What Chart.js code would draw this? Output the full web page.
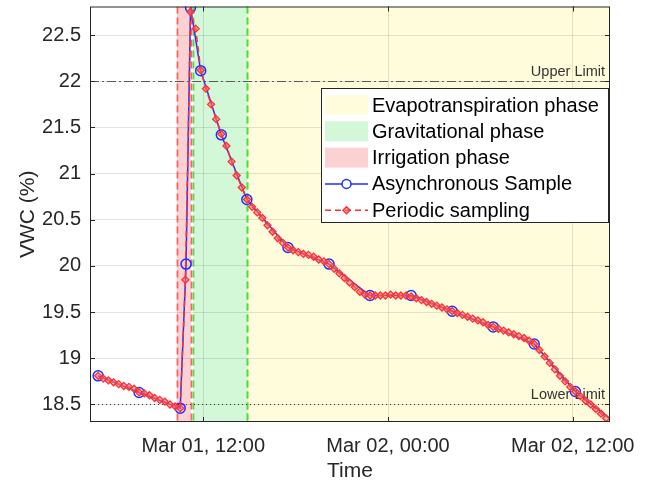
<!DOCTYPE html>
<html>
<head>
<meta charset="utf-8">
<script src="https://cdn.jsdelivr.net/npm/chart.js@4.4.1/dist/chart.umd.min.js"></script>
<style>
  html, body { margin: 0; padding: 0; background: #fff; }
  canvas { display: block; }
</style>
</head>
<body>
<canvas id="vwcChart" width="657" height="484"></canvas>
<script>
// time is in hours counted from Mar 01, 00:00
const xTickHours = [12, 24, 36];
const xTickLabels = ["Mar 01, 12:00", "Mar 02, 00:00", "Mar 02, 12:00"];
const yTicks = [18.5, 19, 19.5, 20, 20.5, 21, 21.5, 22, 22.5];

// asynchronous samples (blue circles)
const asyncHours = [5.17, 7.83, 10.5, 10.88, 11.17, 11.83, 13.17, 14.83, 17.5, 20.17,
    22.83, 25.5, 28.17, 30.83, 33.5, 36.17, 38.83];
const asyncVwc = [18.81, 18.63, 18.46, 20.02, 22.80, 22.115, 21.42, 20.72, 20.20, 20.02,
    19.68, 19.68, 19.51, 19.34, 19.155, 18.64, 18.29];

// periodic sampling (red diamonds), one every 20 minutes
const periodicStartHour = 5.17;
const periodicStepHours = 1 / 3;
const periodicVwc = [
    18.81, 18.78, 18.76, 18.74, 18.72, 18.70, 18.69, 18.67, 18.63, 18.62,
    18.60, 18.57, 18.55, 18.53, 18.50, 18.48, 18.46, 19.85, 22.75, 22.57,
    22.12, 21.92, 21.75, 21.59, 21.43, 21.30, 21.13, 20.98, 20.85, 20.72,
    20.64, 20.58, 20.52, 20.44, 20.37, 20.30, 20.25, 20.20, 20.17, 20.15,
    20.13, 20.12, 20.10, 20.07, 20.05, 20.02, 19.97, 19.92, 19.87, 19.82,
    19.77, 19.72, 19.69, 19.68, 19.68, 19.68, 19.68, 19.69, 19.68, 19.68,
    19.68, 19.67, 19.65, 19.63, 19.61, 19.59, 19.57, 19.55, 19.53, 19.51,
    19.49, 19.47, 19.45, 19.43, 19.41, 19.39, 19.36, 19.34, 19.32, 19.30,
    19.28, 19.26, 19.24, 19.22, 19.19, 19.155, 19.09, 19.02, 18.95, 18.88,
    18.81, 18.75, 18.69, 18.64, 18.59, 18.54, 18.50, 18.45, 18.40, 18.35
];

// phases (shaded bands)
const phaseNames = ["Evapotranspiration phase", "Gravitational phase", "Irrigation phase"];
const phaseStart = [14.87, 11.36, 10.27];
const phaseEnd = [40, 14.87, 11.2];

const upperLimit = 22;
const lowerLimit = 18.5;

const xMin = 4.64, xMax = 38.42;
const yMin = 18.31, yMax = 22.81;

// styles
const phaseFill = ["#fffcdb", "#d2f8d8", "#fad2d2"];
const phaseEdge = ["#8fe030", "#44e044", "#ff5f5f"];
const textColor = "#262626";
const gridColor = "rgba(0,0,0,0.11)";
const fontFamily = "'Liberation Sans', Arial, sans-serif";
const blue = "#1f2fff";
const red = "#ff3030";

function drawDiamond(ctx, x, y, r) {
    ctx.beginPath();
    ctx.moveTo(x, y - r);
    ctx.lineTo(x + r, y);
    ctx.lineTo(x, y + r);
    ctx.lineTo(x - r, y);
    ctx.closePath();
}

const decorPlugin = {
    id: "decor",
    beforeDraw(chart) {
        const { ctx, chartArea: a, scales: { x } } = chart;
        ctx.save();
        ctx.beginPath();
        ctx.rect(a.left, a.top, a.width, a.height);
        ctx.clip();
        phaseNames.forEach((name, i) => {
            const x0 = x.getPixelForValue(phaseStart[i]);
            const x1 = x.getPixelForValue(phaseEnd[i]);
            ctx.fillStyle = phaseFill[i];
            ctx.fillRect(x0, a.top, x1 - x0, a.height);
        });
        ctx.restore();
    },
    beforeDatasetsDraw(chart) {
        const { ctx, chartArea: a, scales: { x, y } } = chart;
        ctx.save();
        ctx.beginPath();
        ctx.rect(a.left, a.top, a.width, a.height);
        ctx.clip();

        // dashed phase borders
        ctx.lineWidth = 1.7;
        ctx.setLineDash([7, 4]);
        phaseNames.forEach((name, i) => {
            ctx.strokeStyle = phaseEdge[i];
            [phaseStart[i], phaseEnd[i]].forEach(v => {
                const px = Math.round(x.getPixelForValue(v)) + 0.5;
                ctx.beginPath();
                ctx.moveTo(px, a.top);
                ctx.lineTo(px, a.bottom);
                ctx.stroke();
            });
        });

        // limit lines
        ctx.lineWidth = 1;
        ctx.strokeStyle = "#5a5a5a";
        ctx.setLineDash([9, 3, 2, 3]);
        let py = Math.round(y.getPixelForValue(upperLimit)) + 0.5;
        ctx.beginPath(); ctx.moveTo(a.left, py); ctx.lineTo(a.right, py); ctx.stroke();

        ctx.strokeStyle = "#333";
        ctx.setLineDash([1, 3]);
        py = Math.round(y.getPixelForValue(lowerLimit)) + 0.5;
        ctx.beginPath(); ctx.moveTo(a.left, py); ctx.lineTo(a.right, py); ctx.stroke();
        ctx.setLineDash([]);

        ctx.fillStyle = "#333";
        ctx.font = "14.5px " + fontFamily;
        ctx.textAlign = "right";
        ctx.textBaseline = "alphabetic";
        ctx.fillText("Upper Limit", a.right - 5, y.getPixelForValue(upperLimit) - 5);
        ctx.fillText("Lower Limit", a.right - 5, y.getPixelForValue(lowerLimit) - 5);
        ctx.restore();
    },
    afterDraw(chart) {
        const { ctx, chartArea: a, scales: { x, y } } = chart;
        ctx.save();

        // box with inward ticks
        ctx.strokeStyle = textColor;
        ctx.lineWidth = 1;
        ctx.strokeRect(a.left + 0.5, a.top + 0.5, a.width - 1, a.height - 1);
        ctx.beginPath();
        xTickHours.forEach(v => {
            const px = Math.round(x.getPixelForValue(v)) + 0.5;
            ctx.moveTo(px, a.bottom); ctx.lineTo(px, a.bottom - 5);
            ctx.moveTo(px, a.top); ctx.lineTo(px, a.top + 5);
        });
        yTicks.forEach(v => {
            const py = Math.round(y.getPixelForValue(v)) + 0.5;
            ctx.moveTo(a.left, py); ctx.lineTo(a.left + 5, py);
            ctx.moveTo(a.right, py); ctx.lineTo(a.right - 5, py);
        });
        ctx.stroke();

        // legend
        const lx = 321, ly = 88, lw = 287, lh = 134;
        ctx.fillStyle = "#fff";
        ctx.fillRect(lx, ly, lw, lh);
        ctx.strokeStyle = "#262626";
        ctx.strokeRect(lx + 0.5, ly + 0.5, lw, lh);

        const rowH = 26.3, firstRow = ly + 17;
        const sx0 = lx + 4, sx1 = lx + 47, smid = (sx0 + sx1) / 2;
        ctx.font = "20px " + fontFamily;
        ctx.textAlign = "left";
        ctx.textBaseline = "middle";
        const entries = phaseNames.concat(["Asynchronous Sample", "Periodic sampling"]);
        entries.forEach((label, i) => {
            const cy = firstRow + i * rowH;
            if (i < 3) {
                ctx.fillStyle = phaseFill[i];
                ctx.fillRect(sx0, cy - 10, sx1 - sx0, 20);
            } else if (i === 3) {
                ctx.strokeStyle = blue;
                ctx.lineWidth = 1.5;
                ctx.beginPath(); ctx.moveTo(sx0, cy); ctx.lineTo(sx1, cy); ctx.stroke();
                ctx.fillStyle = "#fff";
                ctx.beginPath(); ctx.arc(smid, cy, 4.5, 0, Math.PI * 2); ctx.fill(); ctx.stroke();
            } else {
                ctx.strokeStyle = red;
                ctx.lineWidth = 1.5;
                ctx.setLineDash([6, 4]);
                ctx.beginPath(); ctx.moveTo(sx0, cy); ctx.lineTo(sx1, cy); ctx.stroke();
                ctx.setLineDash([]);
                ctx.fillStyle = "rgba(255,120,120,0.6)";
                drawDiamond(ctx, smid, cy, 3.5); ctx.fill(); ctx.stroke();
            }
            ctx.fillStyle = "#000";
            ctx.fillText(label, sx1 + 4, cy + 1);
        });
        ctx.restore();
    }
};

const asyncPoints = asyncHours.map((h, i) => ({ x: h, y: asyncVwc[i] }));
const periodicPoints = periodicVwc.map((v, k) => ({ x: periodicStartHour + k * periodicStepHours, y: v }));

const tickFont = { family: fontFamily, size: 20 };
const titleFont = { family: fontFamily, size: 21 };

new Chart(document.getElementById("vwcChart"), {
    type: "line",
    data: {
        datasets: [
            {
                label: "Asynchronous Sample",
                data: asyncPoints,
                borderColor: blue,
                borderWidth: 1.5,
                pointStyle: "circle",
                pointRadius: 5,
                pointBorderWidth: 1.5,
                pointBorderColor: blue,
                pointBackgroundColor: "rgba(255,255,255,0)",
                tension: 0,
                order: 2
            },
            {
                label: "Periodic sampling",
                data: periodicPoints,
                borderColor: red,
                borderWidth: 1.5,
                borderDash: [6, 4],
                pointStyle: "rectRot",
                pointRadius: 3.5,
                pointBorderWidth: 1.3,
                pointBorderColor: red,
                pointBackgroundColor: "rgba(255,110,110,0.55)",
                tension: 0,
                order: 1
            }
        ]
    },
    options: {
        responsive: false,
        devicePixelRatio: 1,
        animation: false,
        layout: { padding: { top: 4, right: 47, left: 0, bottom: 0 } },
        plugins: { legend: { display: false }, tooltip: { enabled: false } },
        scales: {
            x: {
                type: "linear",
                min: xMin,
                max: xMax,
                afterBuildTicks: s => { s.ticks = xTickHours.map(v => ({ value: v })); },
                afterFit: s => {
                    s.height = 62;
                    s.paddingLeft = 0;
                    s.paddingRight = 0;
                },
                grid: { color: gridColor, drawTicks: false },
                border: { display: false },
                ticks: {
                    padding: 12,
                    color: textColor,
                    font: tickFont,
                    maxRotation: 0,
                    autoSkip: false,
                    callback: (v, i) => xTickLabels[i]
                },
                title: {
                    display: true, text: "Time", color: textColor, font: titleFont,
                    padding: { top: 0, bottom: 0 }
                }
            },
            y: {
                min: yMin,
                max: yMax,
                afterBuildTicks: s => { s.ticks = yTicks.map(v => ({ value: v })); },
                afterFit: s => {
                    s.width = 90;
                    s.paddingTop = 0;
                    s.paddingBottom = 0;
                },
                grid: { color: gridColor, drawTicks: false },
                border: { display: false },
                ticks: {
                    padding: 9,
                    color: textColor,
                    font: tickFont,
                    callback: v => String(v)
                },
                title: {
                    display: true, text: "VWC (%)", color: textColor, font: titleFont,
                    padding: { top: 16, bottom: 0 }
                }
            }
        }
    },
    plugins: [decorPlugin]
});
</script>
</body>
</html>
